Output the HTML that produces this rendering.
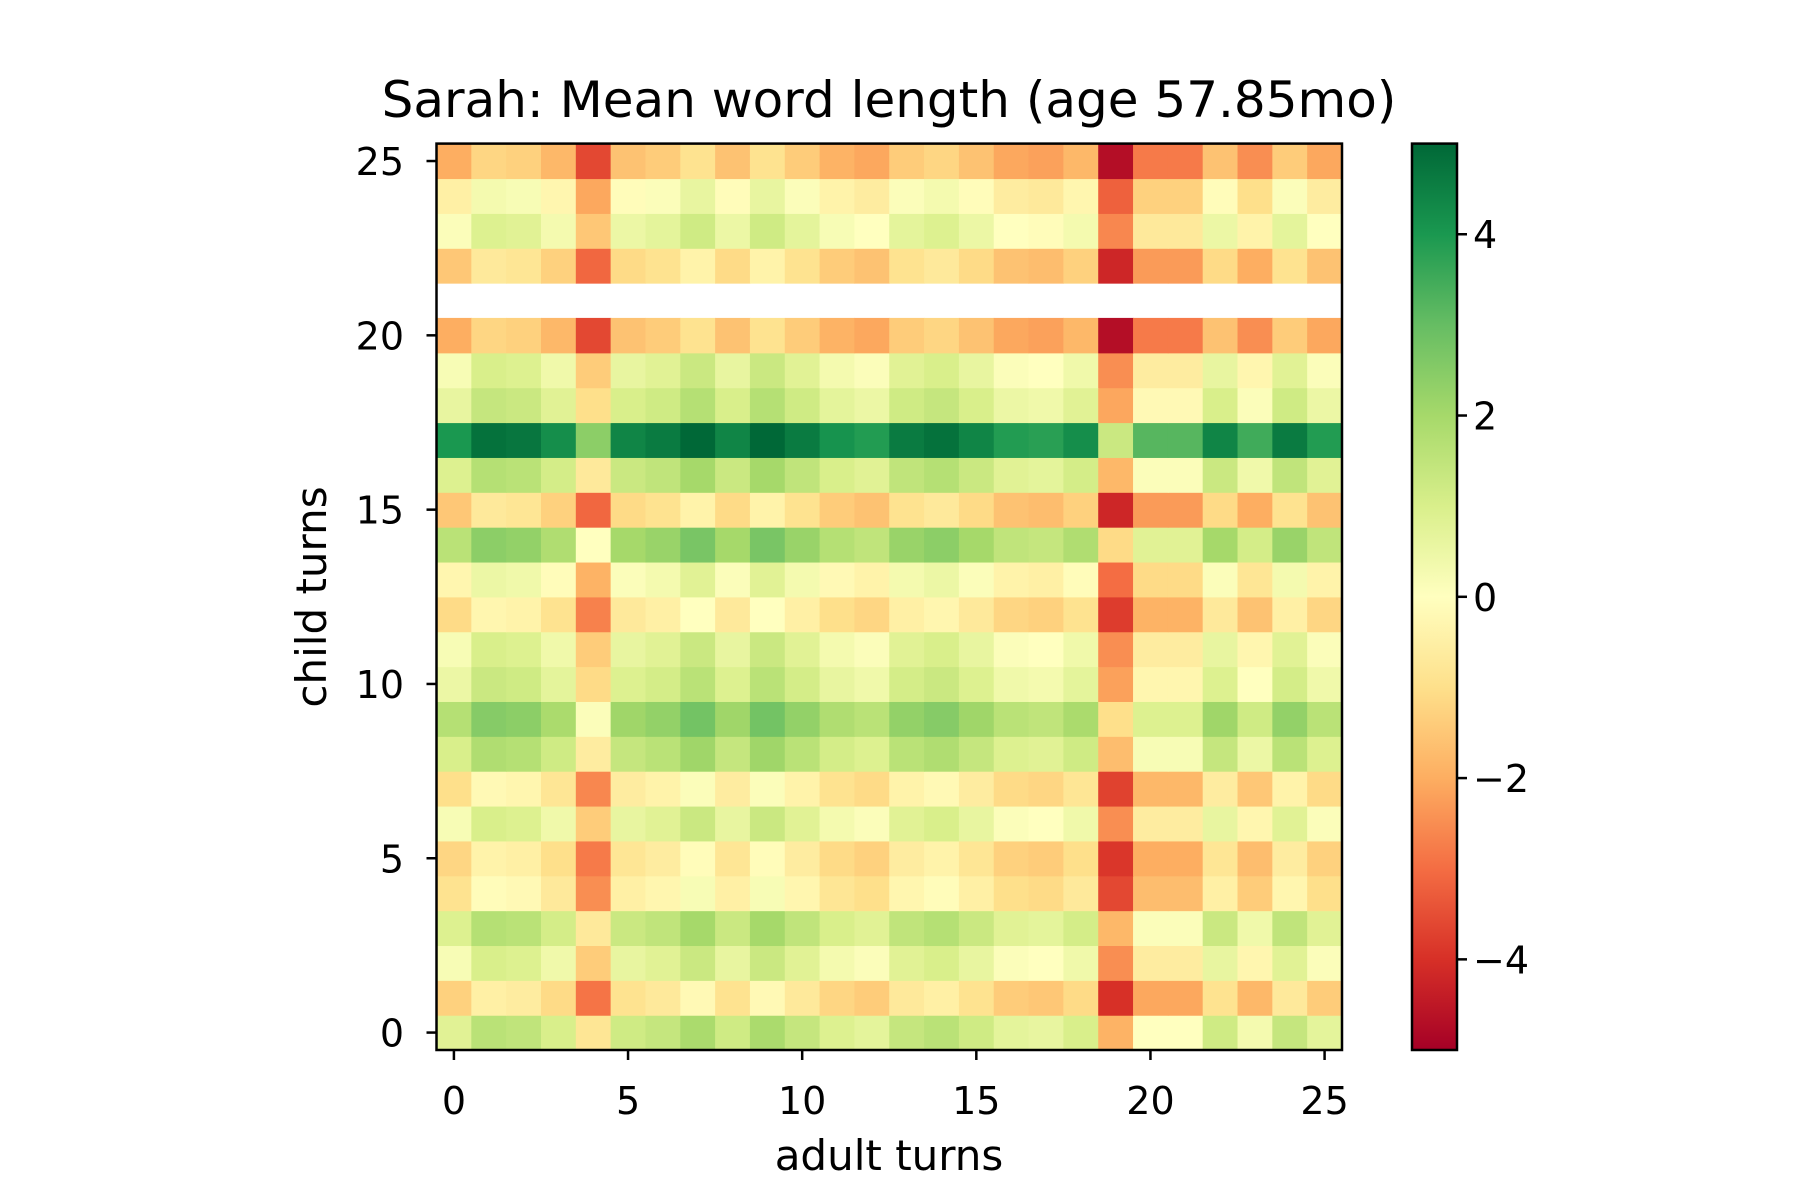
<!DOCTYPE html>
<html><head><meta charset="utf-8"><style>
html,body{margin:0;padding:0;background:#fff;}
svg{display:block;font-family:"DejaVu Sans","Liberation Sans",sans-serif;}
</style></head><body>
<svg id="chart" width="1800" height="1200" viewBox="0 0 1800 1200" xmlns="http://www.w3.org/2000/svg">
<rect width="1800" height="1200" fill="#fff"/>
<text x="889" y="117" font-size="50" text-anchor="middle">Sarah: Mean word length (age 57.85mo)</text>
<g id="cells"></g>
<g id="axes"></g>
<text x="889" y="1170" font-size="42" text-anchor="middle">adult turns</text>
<text transform="translate(326,597) rotate(-90)" font-size="42" text-anchor="middle">child turns</text>
<defs><linearGradient id="cbgrad" x1="0" y1="1" x2="0" y2="0"></linearGradient></defs>
<g id="colorbar"></g>
</svg>
<script>
// child turn mean word length (rows, index 0 at bottom); null = missing
const childMeans = [5.0, 2.9, 4.4, 5.1, 3.3, 3.0, 4.4, 3.2, 5.2, 5.9, 4.7, 4.4, 3.1, 3.9, 5.8, 2.7, 5.1, 8.2, 4.8, 4.4, 2.2, null, 2.7, 4.3, 3.7, 2.2];
// adult turn mean word length (columns)
const adultMeans = [4.2, 3.4, 3.5, 4.0, 5.8, 3.8, 3.6, 3.1, 3.8, 3.1, 3.6, 4.1, 4.3, 3.6, 3.4, 3.8, 4.3, 4.4, 4.0, 6.9, 5.0, 5.0, 3.8, 4.7, 3.6, 4.3];
const xTicks = [0, 5, 10, 15, 20, 25];
const yTicks = [0, 5, 10, 15, 20, 25];
const cbTicks = [-4, -2, 0, 2, 4];
const vmin = -5, vmax = 5;

const NS = "http://www.w3.org/2000/svg";
const L = 436.5, R = 1342, T = 143.6, B = 1050;
const n = 26;
function xScale(v){ return L + (v + 0.5) / n * (R - L); }
function yScale(v){ return B - (v + 0.5) / n * (B - T); }
const stops = ["#a50026","#d73027","#f46d43","#fdae61","#fee08b","#ffffbf","#d9ef8b","#a6d96a","#66bd63","#1a9850","#006837"];
function hex(h){ return [1,3,5].map(i => parseInt(h.substr(i,2),16)); }
function cmap(v){
  let t = (v - vmin) / (vmax - vmin); t = Math.max(0, Math.min(1, t));
  const p = t * (stops.length - 1); const i = Math.min(Math.floor(p), stops.length - 2); const f = p - i;
  const a = hex(stops[i]), b = hex(stops[i+1]);
  return "rgb(" + a.map((c,k) => Math.round(c + (b[k]-c)*f)).join(",") + ")";
}
function mk(tag, attrs, parent){
  const e = document.createElementNS(NS, tag);
  for (const k in attrs) e.setAttribute(k, attrs[k]);
  parent.appendChild(e); return e;
}
const cells = document.getElementById("cells");
const cw = (R - L) / n, ch = (B - T) / n;
for (let i = 0; i < childMeans.length; i++) {
  for (let j = 0; j < adultMeans.length; j++) {
    if (childMeans[i] === null) continue;
    const v = childMeans[i] - adultMeans[j];
    const r = mk("rect", {x: xScale(j) - cw/2, y: yScale(i) - ch/2, width: cw + 0.6, height: ch + 0.6, fill: cmap(v)}, cells);
    
    
  }
}
const axes = document.getElementById("axes");
const frame = mk("rect", {x: L, y: T, width: R - L, height: B - T, fill: "none", stroke: "#000", "stroke-width": 2.5}, axes);


xTicks.forEach(t => {
  const x = xScale(t);
  mk("line", {x1: x, y1: B, x2: x, y2: B + 10, stroke: "#000", "stroke-width": 2.5}, axes);
  const tx = mk("text", {x: x, y: 1114, "font-size": 38, "text-anchor": "middle"}, axes);
  tx.textContent = t;
  
  
});
yTicks.forEach(t => {
  const y = yScale(t);
  mk("line", {x1: L - 10, y1: y, x2: L, y2: y, stroke: "#000", "stroke-width": 2.5}, axes);
  const tx = mk("text", {x: 404, y: y + 14, "font-size": 38, "text-anchor": "end"}, axes);
  tx.textContent = t;
  
  
});
// colorbar
const CL = 1412, CR = 1457;
function cbY(v){ return B - (v - vmin) / (vmax - vmin) * (B - T); }
const grad = document.getElementById("cbgrad");
stops.forEach((c, i) => mk("stop", {offset: (i / (stops.length - 1)), "stop-color": c}, grad));
const cb = document.getElementById("colorbar");
mk("rect", {x: CL, y: T, width: CR - CL, height: B - T, fill: "url(#cbgrad)", stroke: "#000", "stroke-width": 2.5}, cb);
cbTicks.forEach(t => {
  const y = cbY(t);
  mk("line", {x1: CR, y1: y, x2: CR + 10, y2: y, stroke: "#000", "stroke-width": 2.5}, cb);
  const tx = mk("text", {x: 1473, y: y + 14, "font-size": 38}, cb);
  tx.textContent = t < 0 ? "\u2212" + Math.abs(t) : String(t);
  
  
});
</script>
</body></html>
